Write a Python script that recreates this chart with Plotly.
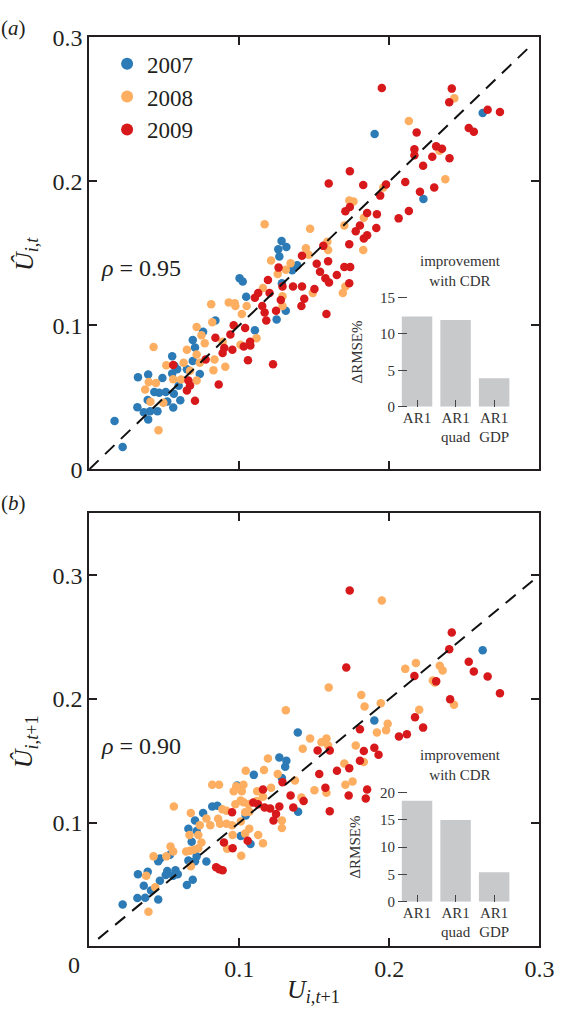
import plotly.graph_objects as go

# ---------------- data ----------------
years = ["2007", "2008", "2009"]
year_colors = ["#2c7bb6", "#fdae61", "#d7191c"]

# panel (a): U_{i,t} vs fitted U_{i,t}
a2007_x = [0.0169, 0.0223, 0.0321, 0.0393, 0.0406, 0.0455, 0.0364, 0.056, 0.0325, 0.0393, 0.039, 0.0434, 0.0466, 0.052, 0.051,
           0.0488, 0.0553, 0.0553, 0.0568, 0.0586, 0.0596, 0.0564, 0.0607, 0.0651, 0.069, 0.0737, 0.0705, 0.069, 0.0759, 0.0841,
           0.1282, 0.1314, 0.126, 0.1267, 0.1386, 0.1353, 0.1284, 0.131, 0.1002, 0.1023, 0.1046, 0.1104, 0.1249,
           0.2622, 0.1902, 0.2227]
a2007_y = [0.0336, 0.0155, 0.0432, 0.0347, 0.0403, 0.0403, 0.0397, 0.043, 0.064, 0.0658, 0.0482, 0.0538, 0.0532, 0.0471, 0.0538,
           0.0635, 0.0666, 0.0786, 0.0719, 0.0696, 0.058, 0.0525, 0.048, 0.0696, 0.0752, 0.0662, 0.0847, 0.0898, 0.0955, 0.1034,
           0.1586, 0.1545, 0.1529, 0.1478, 0.1417, 0.1383, 0.1293, 0.1101, 0.1327, 0.1304, 0.1198, 0.0966, 0.1041,
           0.2475, 0.2329, 0.1878]

a2008_x = [0.0462, 0.0397, 0.0373, 0.0408, 0.0494, 0.0445, 0.0514, 0.0429, 0.056, 0.0612, 0.0629, 0.0651, 0.0672, 0.0716, 0.0737,
           0.0716, 0.0716, 0.0748, 0.077, 0.0835, 0.0828, 0.0907, 0.082, 0.0813, 0.0889, 0.1008,
           0.196, 0.1733, 0.1761, 0.183, 0.17, 0.1472, 0.1169, 0.1826, 0.1587, 0.1444, 0.1592, 0.1462, 0.1212, 0.1342,
           0.131, 0.1256, 0.1707, 0.169, 0.149, 0.1288, 0.1288, 0.1158, 0.1049, 0.1115, 0.1017, 0.0974, 0.093, 0.097,
           0.2433, 0.213, 0.2334, 0.2373]
a2008_y = [0.0272, 0.0606, 0.0554, 0.0469, 0.0462, 0.06, 0.0723, 0.0849, 0.0626, 0.0624, 0.0741, 0.083, 0.0685, 0.0617, 0.0741,
           0.0797, 0.0988, 0.0932, 0.0876, 0.0763, 0.0689, 0.0712, 0.1022, 0.1146, 0.0887, 0.0865,
           0.1957, 0.1867, 0.186, 0.1748, 0.1694, 0.1671, 0.1703, 0.1523, 0.1581, 0.1536, 0.1523, 0.149, 0.1451, 0.1432,
           0.1387, 0.1356, 0.127, 0.1225, 0.1225, 0.1203, 0.1135, 0.1259, 0.1135, 0.091, 0.1079, 0.1135, 0.1158, 0.1153,
           0.2577, 0.2419, 0.2212, 0.2014]

a2009_x = [0.056, 0.0661, 0.0672, 0.0651, 0.0705, 0.0776, 0.0863, 0.0841, 0.09, 0.0889, 0.0954, 0.103, 0.1074, 0.1058, 0.1225,
           0.1737, 0.1596, 0.1826, 0.1978, 0.1939, 0.1707, 0.1737, 0.1852, 0.1917, 0.1913, 0.1804, 0.1776, 0.1852, 0.183,
           0.1733, 0.156, 0.1418, 0.1262, 0.1516, 0.1592, 0.1538, 0.17, 0.1739, 0.165, 0.1574, 0.1598, 0.1733, 0.1501,
           0.1418, 0.1358, 0.1433, 0.1414, 0.1288, 0.1581, 0.1277, 0.1245, 0.1191, 0.1202, 0.1126, 0.1104, 0.1153, 0.1169,
           0.118, 0.1072, 0.1039, 0.0963, 0.0941,
           0.195, 0.2416, 0.2399, 0.2655, 0.2737, 0.2182, 0.2529, 0.2563, 0.2312, 0.2351, 0.2167, 0.2167, 0.2286, 0.2401,
           0.2225, 0.2106, 0.2299, 0.2204, 0.213, 0.2062]
a2009_y = [0.0725, 0.0617, 0.0583, 0.0548, 0.0477, 0.0763, 0.059, 0.0914, 0.0842, 0.0808, 0.0831, 0.0853, 0.086, 0.0757, 0.073,
           0.207, 0.1986, 0.1975, 0.1979, 0.1901, 0.1793, 0.1822, 0.178, 0.1772, 0.1676, 0.1694, 0.1653, 0.1626, 0.1604,
           0.1563, 0.1552, 0.1484, 0.1401, 0.1428, 0.1446, 0.1372, 0.1405, 0.1405, 0.1349, 0.1327, 0.1297, 0.1293, 0.1252,
           0.127, 0.127, 0.1185, 0.1135, 0.127, 0.1079, 0.1176, 0.1101, 0.1315, 0.1225, 0.1225, 0.1191, 0.1135, 0.109,
           0.1034, 0.0887, 0.0982, 0.1, 0.0937,
           0.2649, 0.2644, 0.2549, 0.2498, 0.2482, 0.234, 0.237, 0.2345, 0.2243, 0.2227, 0.2223, 0.2182, 0.2171, 0.216,
           0.2108, 0.1995, 0.1957, 0.1928, 0.1795, 0.1743]

# panel (b): U_{i,t+1} vs fitted U_{i,t+1}
b2007_x = [0.0223, 0.0321, 0.0373, 0.046, 0.0412, 0.0364, 0.0471, 0.0325, 0.039, 0.051, 0.052, 0.056, 0.0575, 0.059, 0.0651,
           0.069, 0.0705, 0.0661, 0.046, 0.0473, 0.0538, 0.0683, 0.0781, 0.0716, 0.0661, 0.0716, 0.0705, 0.0759, 0.082,
           0.19, 0.139, 0.1267, 0.1314, 0.1306, 0.1097, 0.1284, 0.0985, 0.1392, 0.1043, 0.1075, 0.101, 0.0854,
           0.2622]
b2007_y = [0.0337, 0.039, 0.0392, 0.0379, 0.0451, 0.049, 0.053, 0.0582, 0.0603, 0.0577, 0.0608, 0.057, 0.0614, 0.0582, 0.0495,
           0.0538, 0.0688, 0.0693, 0.0688, 0.0709, 0.074, 0.0845, 0.0685, 0.0727, 0.0951, 0.0932, 0.1017, 0.1078, 0.113,
           0.1826, 0.1729, 0.1526, 0.15, 0.1452, 0.1386, 0.136, 0.13, 0.1088, 0.1057, 0.0828, 0.0891, 0.1136,
           0.2393]

b2008_x = [0.0395, 0.044, 0.038, 0.0677, 0.0429, 0.0514, 0.056, 0.0542, 0.0564, 0.0646, 0.0672, 0.0698, 0.0727, 0.0748,
           0.0668, 0.0737, 0.0727, 0.0677, 0.0781, 0.0807, 0.082,
           0.1596, 0.1813, 0.1835, 0.131, 0.1943, 0.1989, 0.1917, 0.1978, 0.1472, 0.1581, 0.1592, 0.1548, 0.1776, 0.183,
           0.1423, 0.1191, 0.1043, 0.1165, 0.1256, 0.1371, 0.17, 0.1707, 0.1755, 0.1581, 0.1501, 0.1414, 0.1212, 0.1119,
           0.1028, 0.098, 0.0963, 0.1017, 0.0865, 0.1115, 0.1284, 0.1284, 0.1061, 0.1028, 0.1009, 0.1158, 0.1067, 0.101,
           0.1067, 0.1039, 0.1126, 0.1158, 0.1013, 0.0919, 0.0956, 0.0952, 0.0915, 0.0887, 0.0915, 0.0859, 0.0872,
           0.0974, 0.1039,
           0.195, 0.2106, 0.2177, 0.2336, 0.2355, 0.229, 0.2303, 0.2431, 0.2199]
b2008_y = [0.0279, 0.0477, 0.057, 0.0648, 0.0727, 0.0727, 0.0767, 0.0806, 0.113, 0.0767, 0.0772, 0.078, 0.0793, 0.084,
           0.0899, 0.0978, 0.0899, 0.1078, 0.1033, 0.0978, 0.1307,
           0.2092, 0.2032, 0.1939, 0.1908, 0.1966, 0.18, 0.1729, 0.1747, 0.1681, 0.1681, 0.1623, 0.165, 0.1623, 0.1491,
           0.1597, 0.1518, 0.142, 0.1425, 0.1394, 0.1341, 0.1478, 0.1307, 0.1333, 0.1241, 0.1262, 0.1202, 0.1281, 0.1254,
           0.1307, 0.1294, 0.1254, 0.1254, 0.1307, 0.1175, 0.1017, 0.0957, 0.1149, 0.1165, 0.1178, 0.1209, 0.1088, 0.1009,
           0.0951, 0.0911, 0.0899, 0.0833, 0.0733, 0.0788, 0.0899, 0.0978, 0.0991, 0.1109, 0.1096, 0.1031, 0.0991,
           0.1149, 0.1083,
           0.2796, 0.2243, 0.229, 0.2269, 0.2229, 0.215, 0.2132, 0.1953, 0.1913]

b2009_x = [0.0846, 0.0867, 0.0889,
           0.1804, 0.2064, 0.2117, 0.1603, 0.19, 0.183, 0.1928, 0.1804, 0.1522, 0.1533, 0.1651, 0.1733, 0.1852, 0.1843,
           0.1729, 0.1574, 0.1429, 0.136, 0.1342, 0.1288, 0.1158, 0.1093, 0.1126, 0.1169, 0.1206, 0.1267, 0.1245, 0.1228,
           0.1603, 0.1056, 0.0956, 0.0898, 0.0952,
           0.2416, 0.2399, 0.2167, 0.2312, 0.2529, 0.2563, 0.2655, 0.2737, 0.2405, 0.2171, 0.2225,
           0.1736, 0.1713]
b2009_y = [0.064, 0.0622, 0.0614,
           0.1755, 0.1697, 0.1715, 0.1584, 0.1605, 0.1579, 0.1549, 0.15, 0.1584, 0.1394, 0.142, 0.1439, 0.1267, 0.1194,
           0.122, 0.1281, 0.1175, 0.1123, 0.122, 0.1326, 0.1267, 0.1162, 0.1149, 0.1123, 0.1115, 0.113, 0.107, 0.1017,
           0.1091, 0.0854, 0.0793, 0.084, 0.1083,
           0.2538, 0.2401, 0.2185, 0.2142, 0.23, 0.2221, 0.2182, 0.2045, 0.1998, 0.1852, 0.1768,
           0.2877, 0.2255]

# 1:1 reference lines
diag_a = [0.0, 0.295]
diag_b = [0.006, 0.296]

# inset bar charts: improvement with CDR
models = ["AR1", "AR1<br>quad", "AR1<br>GDP"]
drmse_a = [12.4, 11.9, 3.9]
drmse_b = [18.5, 15.0, 5.4]

panel_a = [(a2007_x, a2007_y), (a2008_x, a2008_y), (a2009_x, a2009_y)]
panel_b = [(b2007_x, b2007_y), (b2008_x, b2008_y), (b2009_x, b2009_y)]

# ---------------- figure ----------------
W, H = 570, 1020
FONT = "Liberation Serif, Times New Roman, DejaVu Serif, serif"
INK = "#231f20"

def px(x):
    return x / W

def py(y):
    return 1 - y / H

fig = go.Figure()

for k, yr in enumerate(years):
    xs, ys = panel_a[k]
    fig.add_trace(go.Scatter(x=xs, y=ys, mode="markers", name=yr, legendgroup=yr,
                             marker=dict(color=year_colors[k], size=8.5, line=dict(width=0)),
                             xaxis="x", yaxis="y", showlegend=True))
for k, yr in enumerate(years):
    xs, ys = panel_b[k]
    fig.add_trace(go.Scatter(x=xs, y=ys, mode="markers", name=yr, legendgroup=yr,
                             marker=dict(color=year_colors[k], size=8.5, line=dict(width=0)),
                             xaxis="x2", yaxis="y2", showlegend=False))

fig.add_trace(go.Scatter(x=diag_a, y=diag_a, mode="lines", xaxis="x", yaxis="y", showlegend=False,
                         line=dict(color="#111111", width=2, dash="13px,9px")))
fig.add_trace(go.Scatter(x=diag_b, y=diag_b, mode="lines", xaxis="x2", yaxis="y2", showlegend=False,
                         line=dict(color="#111111", width=2, dash="13px,9px")))

fig.add_trace(go.Bar(x=[0, 1, 2], y=drmse_a, marker=dict(color="#c8c9cb", line=dict(width=0)),
                     xaxis="x3", yaxis="y3", showlegend=False, width=0.79))
fig.add_trace(go.Bar(x=[0, 1, 2], y=drmse_b, marker=dict(color="#c8c9cb", line=dict(width=0)),
                     xaxis="x4", yaxis="y4", showlegend=False, width=0.79))

main_x_dom = [px(91.6), px(554.0)]
main_axis = dict(showline=True, linewidth=2, linecolor=INK, mirror="ticks", ticks="inside",
                 ticklen=8, tickwidth=1.5, tickcolor=INK, showgrid=False, zeroline=False,
                 tickfont=dict(family=FONT, size=24, color=INK))

inset_x_dom = [px(408.5), px(527.3)]
inset_xaxis = dict(domain=inset_x_dom, range=[-0.5, 2.5], tickvals=[0, 1, 2], ticktext=models,
                   ticks="inside", ticklen=7, tickwidth=1.2, tickcolor="#444", showline=False,
                   showgrid=False, zeroline=False, tickfont=dict(family=FONT, size=15, color="#333"))
inset_yaxis = dict(ticks="outside", ticklen=9, tickwidth=1.2, tickcolor="#444", showline=False,
                   showgrid=False, zeroline=False, anchor="free", position=px(418),
                   tickfont=dict(family=FONT, size=15, color="#333"))

fig.update_layout(
    width=W, height=H, margin=dict(l=0, r=0, t=0, b=0),
    paper_bgcolor="white", plot_bgcolor="rgba(0,0,0,0)",
    font=dict(family=FONT, color=INK),
    hovermode=False,
    xaxis=dict(main_axis, domain=main_x_dom, range=[0, 0.3], anchor="y",
               tickvals=[0.1, 0.2], showticklabels=False),
    yaxis=dict(main_axis, domain=[py(468.3), py(25)], range=[0, 0.3], anchor="x",
               tickvals=[0, 0.1, 0.2, 0.3], ticktext=["0", "0.1", "0.2", "0.3"]),
    xaxis2=dict(main_axis, domain=main_x_dom, range=[0, 0.3], anchor="y2",
                tickvals=[0.1, 0.2, 0.3], ticktext=["0.1", "0.2", "0.3"]),
    yaxis2=dict(main_axis, domain=[py(957.7), py(513.5)], range=[0, 0.35], anchor="x2",
                tickvals=[0.1, 0.2, 0.3], ticktext=["0.1", "0.2", "0.3"]),
    xaxis3=dict(inset_xaxis, anchor="y3"),
    yaxis3=dict(inset_yaxis, domain=[py(404), py(292)], range=[0, 15], tickvals=[0, 5, 10, 15]),
    xaxis4=dict(inset_xaxis, anchor="y4"),
    yaxis4=dict(inset_yaxis, domain=[py(912), py(800)], range=[0, 20], tickvals=[0, 5, 10, 15, 20]),
    bargap=0.21,
    legend=dict(x=px(110), y=py(30), xanchor="left", yanchor="top", bgcolor="rgba(0,0,0,0)",
                font=dict(family=FONT, size=23, color=INK), tracegroupgap=0, itemsizing="constant"),
    showlegend=True,
)

def note(text, x, y, size, angle=0, color=INK):
    fig.add_annotation(text=text, x=px(x), y=py(y), xref="paper", yref="paper", showarrow=False,
                       xanchor="center", yanchor="middle", textangle=angle,
                       font=dict(family=FONT, size=size, color=color))

note("(<i>a</i>)", 14, 15, 21)
note("(<i>b</i>)", 14, 503, 21)
note("<i>ρ</i> = 0.95", 145, 262, 24)
note("<i>ρ</i> = 0.90", 145, 752, 24)
note("<i>Û</i><sub><i>i</i>,<i>t</i></sub>", 26, 247, 26, angle=-90)
note("<i>Û</i><sub><i>i</i>,<i>t</i>+1</sub>", 26, 748, 26, angle=-90)
note("<i>U</i><sub><i>i</i>,<i>t</i>+1</sub>", 322, 1004, 26)
note("0", 75.5, 977, 24)
note("improvement<br>with CDR", 473, 265, 15, color="#333")
note("improvement<br>with CDR", 473, 772, 15, color="#333")
note("ΔRMSE%", 367, 348, 15, angle=-90, color="#333")
note("ΔRMSE%", 365, 856, 15, angle=-90, color="#333")

fig.write_html("out.html", config={"displayModeBar": False},
               post_script="document.body.style.margin='0px';")
